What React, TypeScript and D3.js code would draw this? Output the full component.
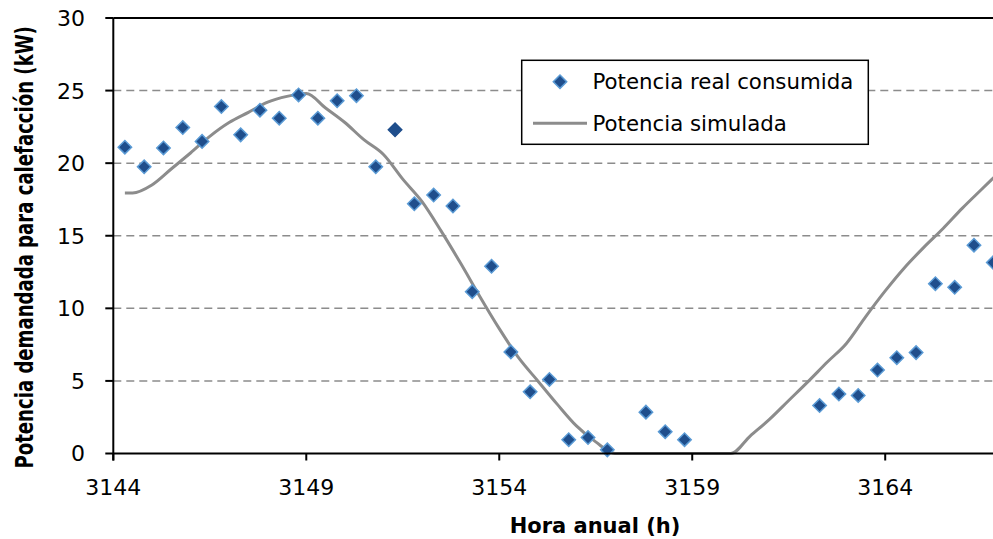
import React from 'react';
import * as d3 from 'd3';

// measured consumption (half-hour samples, some missing)
const realHours = [
  3144.3, 3144.8, 3145.3, 3145.8, 3146.3, 3146.8, 3147.3, 3147.8, 3148.3, 3148.8,
  3149.3, 3149.8, 3150.3, 3150.8, 3151.3, 3151.8, 3152.3, 3152.8, 3153.3, 3153.8,
  3154.3, 3154.8, 3155.3, 3155.8, 3156.3, 3156.8, 3157.8, 3158.3, 3158.8,
  3162.3, 3162.8, 3163.3, 3163.8, 3164.3, 3164.8, 3165.3, 3165.8, 3166.3, 3166.8,
];
const realPower = [
  21.1, 19.75, 21.05, 22.45, 21.5, 23.9, 21.95, 23.65, 23.1, 24.7,
  23.1, 24.3, 24.65, 19.75, 22.3, 17.2, 17.8, 17.05, 11.15, 12.9,
  7.0, 4.25, 5.1, 0.95, 1.1, 0.25, 2.85, 1.5, 0.95,
  3.3, 4.1, 4.0, 5.75, 6.6, 6.95, 11.7, 11.45, 14.35, 13.15,
];
// the one sample drawn without the light outline
const highlightedHour = 3151.3;

// simulated demand
const simHours = [
  3144.3, 3144.5, 3145, 3145.5, 3146, 3146.5, 3147, 3147.5, 3148, 3148.5,
  3149, 3149.5, 3150, 3150.5, 3151, 3151.5, 3152, 3152.5, 3153, 3153.5,
  3154, 3154.5, 3155, 3155.5, 3156, 3156.5, 3157, 3158, 3159, 3160,
  3160.5, 3161, 3161.5, 3162, 3162.5, 3163, 3163.5, 3164, 3164.5, 3165,
  3165.5, 3166, 3166.5, 3167,
];
const simPower = [
  17.95, 17.95, 18.5, 19.6, 20.7, 21.85, 22.8, 23.5, 24.2, 24.6,
  24.8, 23.8, 22.8, 21.6, 20.6, 18.9, 17.35, 15.3, 13.1, 10.8,
  8.6, 6.6, 5.0, 3.4, 1.9, 0.8, 0, 0, 0, 0,
  1.2, 2.35, 3.65, 4.95, 6.3, 7.6, 9.45, 11.2, 12.8, 14.2,
  15.5, 16.9, 18.2, 19.5,
];

const xTicks = [3144, 3149, 3154, 3159, 3164];
const yTicks = [0, 5, 10, 15, 20, 25, 30];
const seriesNames = ['Potencia real consumida', 'Potencia simulada'];
const xTitle = 'Hora anual (h)';
const yTitle = 'Potencia demandada para calefacción (kW)';

const W = 993;
const H = 539;
const left = 113.3;
const right = 1001;
const top = 18;
const bottom = 453.5;
const font = 'DejaVu Sans, Verdana, sans-serif';

const fillBlue = '#1F4E8C';
const edgeBlue = '#5B9BD5';
const grey = '#8C8C8C';

export default function App() {
  const x = d3.scaleLinear().domain([3144, 3167]).range([left, right]);
  const y = d3.scaleLinear().domain([0, 30]).range([bottom, top]);

  const simLine = d3
    .line<number>()
    .x((d, i) => x(simHours[i]))
    .y((d) => y(d))
    .curve(d3.curveMonotoneX);

  const diamond = d3.symbol().type(d3.symbolSquare).size(90)() as string;

  return (
    <svg width={W} height={H} style={{ position: 'absolute', left: 0, top: 0, background: '#fff' }}>
      <rect width={W} height={H} fill="#fff" />

      {/* dashed grid */}
      {yTicks.filter((t) => t > 0 && t < 30).map((t) => (
        <line key={t} x1={left} x2={W} y1={y(t)} y2={y(t)}
          stroke={grey} strokeWidth={1.5} strokeDasharray="8,5" />
      ))}

      {/* simulated line */}
      <path d={simLine(simPower) ?? ''} fill="none" stroke={grey} strokeWidth={3} />

      {/* measured points */}
      {realPower.map((v, i) => {
        const hl = realHours[i] === highlightedHour;
        return (
          <path key={i} d={diamond}
            transform={`translate(${x(realHours[i])},${y(v)}) rotate(45)`}
            fill={fillBlue} stroke={hl ? fillBlue : edgeBlue} strokeWidth={1.5} />
        );
      })}

      {/* frame and axes */}
      <line x1={left} x2={W} y1={top} y2={top} stroke="#000" strokeWidth={2} />
      <line x1={left} x2={W} y1={bottom} y2={bottom} stroke="#000" strokeWidth={2} />
      <line x1={left} x2={left} y1={top} y2={bottom + 7} stroke="#000" strokeWidth={2} />

      {yTicks.map((t) => (
        <g key={t}>
          <line x1={left - 8} x2={left} y1={y(t)} y2={y(t)} stroke="#000" strokeWidth={2} />
          <text x={85} y={y(t)} dy="0.36em" textAnchor="end" fontFamily={font} fontSize={22} fill="#000">
            {t}
          </text>
        </g>
      ))}

      {xTicks.map((t) => (
        <g key={t}>
          <line x1={x(t)} x2={x(t)} y1={bottom} y2={bottom + 7} stroke="#000" strokeWidth={2} />
          <text x={x(t)} y={495} textAnchor="middle" fontFamily={font} fontSize={22} fill="#000">
            {t}
          </text>
        </g>
      ))}

      <text x={595} y={533} textAnchor="middle" fontFamily={font} fontSize={21} fontWeight="bold" fill="#000">
        {xTitle}
      </text>
      {/* y title is squeezed along its length in the original */}
      <text transform="translate(33,247.3) rotate(-90) scale(1,1.37)" textAnchor="middle" fontFamily={font}
        fontSize={18.1} fontWeight="bold" fill="#000">
        {yTitle}
      </text>

      {/* legend */}
      <rect x={521.7} y={60.3} width={346.6} height={84} fill="#fff" stroke="#000" strokeWidth={1.5} />
      <path d={diamond} transform="translate(560,81.7) rotate(45)" fill={fillBlue} stroke={edgeBlue} strokeWidth={1.5} />
      <text x={592.5} y={88.5} fontFamily={font} fontSize={21.3} fill="#000">{seriesNames[0]}</text>
      <line x1={533} x2={587} y1={123.3} y2={123.3} stroke={grey} strokeWidth={3} />
      <text x={592.5} y={130.5} fontFamily={font} fontSize={21.3} fill="#000">{seriesNames[1]}</text>
    </svg>
  );
}
